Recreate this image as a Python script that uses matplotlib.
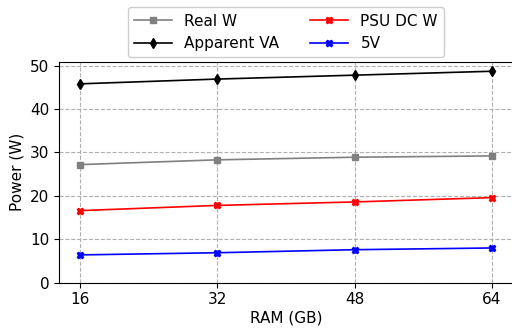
import matplotlib
matplotlib.use("Agg")
import matplotlib.pyplot as plt

ram_gb = [16, 32, 48, 64]
real_w = [27.2, 28.3, 28.9, 29.2]
apparent_va = [45.8, 46.9, 47.8, 48.7]
psu_dc_w = [16.6, 17.8, 18.6, 19.6]
five_v = [6.4, 6.9, 7.6, 8.0]

FS = 11

fig = plt.figure(figsize=(5.12, 3.30), dpi=100)
ax = fig.add_axes([59.3 / 512, (330 - 282.7) / 330,
                   (512.6 - 59.3) / 512, (282.7 - 61.7) / 330])

ax.plot(ram_gb, real_w, color="gray", marker="s", ms=5, lw=1.2, label="Real W")
ax.plot(ram_gb, apparent_va, color="black", marker="d", ms=5, lw=1.2, label="Apparent VA")
ax.plot(ram_gb, psu_dc_w, color="red", marker="X", ms=5, lw=1.2, label="PSU DC W")
ax.plot(ram_gb, five_v, color="blue", marker="X", ms=5, lw=1.2, label="5V")

ax.set_xticks(ram_gb)
ax.set_xlim(13.6, 66.4)
ax.set_ylim(0, 50.9)
ax.set_yticks([0, 10, 20, 30, 40, 50])
ax.tick_params(labelsize=FS)
ax.set_xlabel("RAM (GB)", fontsize=FS, labelpad=2)
ax.set_ylabel("Power (W)", fontsize=FS)
ax.grid(True, ls="--", color="#b0b0b0", lw=0.8)

ax.legend(loc="lower center", bbox_to_anchor=(0.5, 1.02), ncol=2,
          fontsize=FS, framealpha=0.95, borderaxespad=0,
          handlelength=2.5, columnspacing=2.0)

fig.savefig("out.png", dpi=100)
